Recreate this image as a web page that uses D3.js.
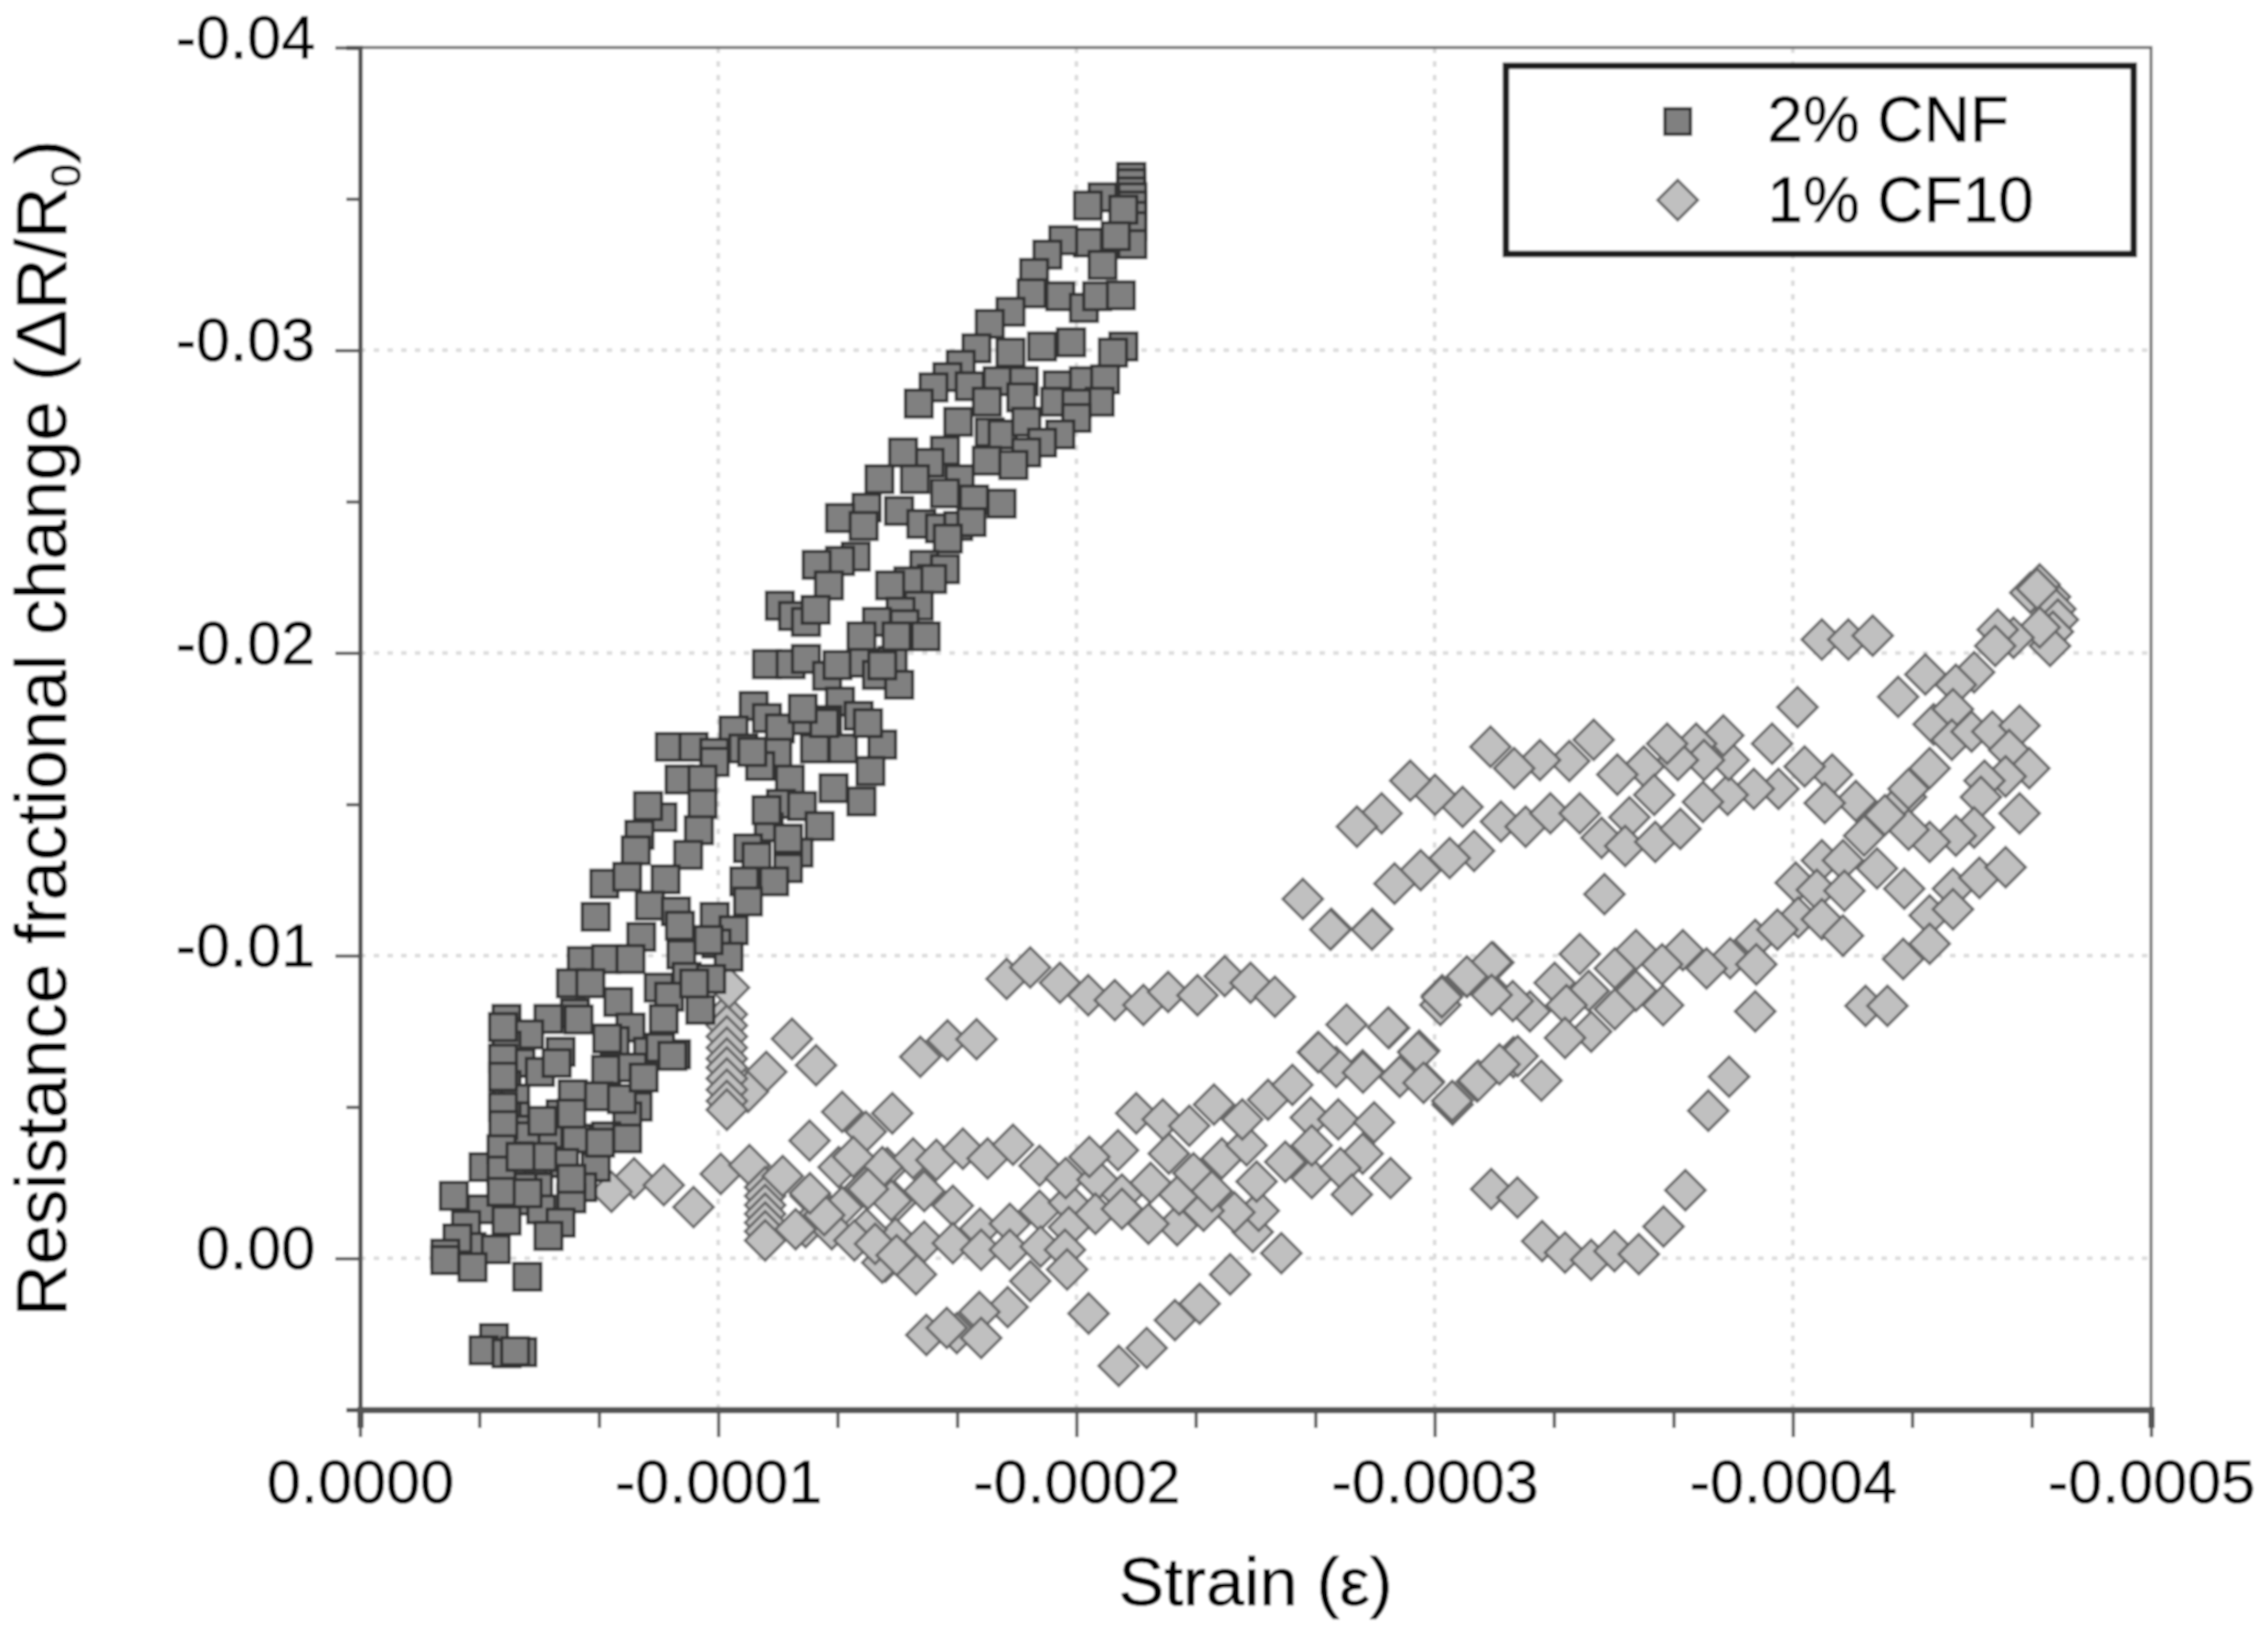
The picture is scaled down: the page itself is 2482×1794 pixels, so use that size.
<!DOCTYPE html>
<html>
<head>
<meta charset="utf-8">
<script src="https://cdn.jsdelivr.net/npm/d3@7"></script>
<style>
  html, body { margin: 0; padding: 0; background: #fff; }
  text { font-family: "Liberation Sans", Arial, sans-serif; fill: #000; stroke: #000; stroke-width: 0.6; }
</style>
</head>
<body>
<div id="graph"></div>
<script>
// strain in microstrain, resistance change in units of 1e-4
const cnfPoints = [
  [-215.3,-357.2],[-215.3,-355.2],[-215.3,-352.5],[-215.6,-350.5],[-215.6,-347.8],[-215.6,-344.4],[-215.6,-341],[-215.6,-335],
  [-207.3,-350.5],[-203.2,-347.8],[-213.1,-346.4],[-211,-337.7],[-203.2,-335.6],[-196.3,-336.3],[-191.9,-331.6],[-207.3,-328.2],
  [-188.2,-325.5],[-187.5,-318.8],[-195.5,-317.8],[-202.1,-314],[-205.8,-317.8],[-212.4,-318.1],[-181.6,-312.7],[-175.8,-308.7],
  [-172.1,-300.6],[-181.6,-299.2],[-190.4,-301.2],[-198.5,-302.6],[-213.1,-301.2],[-210.2,-299.2],[-167.7,-295.2],[-164,-291.1],
  [-160.1,-287.7],[-156,-282.4],[-170.2,-288.1],[-178,-289.8],[-185.3,-289.8],[-194.8,-288.4],[-202.1,-289.8],[-208,-290.4],
  [-206.5,-283],[-175,-283],[-184.6,-284.4],[-194.1,-283],[-200,-282.4],[-167,-276.3],[-175.8,-272.9],[-179.4,-272.2],
  [-186,-276.3],[-200,-277.6],[-195.5,-272.2],[-190.4,-269.5],[-186,-266.2],[-175,-263.5],[-182.4,-262.1],[-163.3,-266.8],
  [-159,-262.8],[-151.6,-266.2],[-145,-257.4],[-154.9,-257.4],[-167.4,-257.4],[-141.4,-248],[-150.5,-246.9],[-163.3,-252.7],
  [-171.4,-250.7],[-179.1,-249.3],[-134,-244.6],[-140.6,-241.9],[-156.7,-242.6],[-161.9,-241.2],[-167,-241.9],[-170.7,-243.2],
  [-164.1,-237.8],[-138.4,-231.8],[-134,-230.4],[-127.5,-229.1],[-130.9,-222.3],[-157.5,-229.1],[-163.3,-227.7],[-159.7,-224.4],
  [-153.1,-223.7],[-148,-222.3],[-117.2,-215.6],[-120.9,-212.2],[-124.5,-210.2],[-127.2,-214.2],[-156,-215.6],[-150.9,-213.6],
  [-152,-209.5],[-144.3,-210.2],[-140,-205.5],[-113.6,-196.3],[-120.2,-196.3],[-124.5,-198],[-130.4,-192.4],[-133.3,-196],
  [-140.6,-196.7],[-148.7,-197.4],[-144.3,-192.7],[-150.5,-189.5],[-134,-183.9],[-139.2,-179.2],[-130.4,-177.8],[-123.8,-177.8],
  [-109.9,-182.5],[-113.6,-178.5],[-117.2,-175.1],[-104.3,-174.4],[-86.5,-169],[-93.1,-169],[-98.9,-167],[-107,-168.4],
  [-116.5,-167],[-127,-168.4],[-134.8,-168.4],[-145.8,-169.7],[-142.5,-161],
  [-120,-158.2],[-111.7,-162.6],[-99,-164],[-132.2,-155.3],[-140,-150.9],[-89.2,-158.2],[-95.6,-158.2],[-95.6,-150.1],
  [-117.5,-150.1],[-123.4,-149.4],[-84.4,-145.7],[-80.4,-149.4],[-94.6,-141.4],[-114.1,-142.4],[-128.3,-142.8],[-78,-139.9],
  [-77,-134.8],[-91.6,-133.3],[-108.3,-135.5],[-110.7,-132.6],[-122.4,-134],[-119.5,-128.9],[-68.2,-123.8],[-74.6,-126],
  [-85.3,-125.2],[-107.3,-124.5],[-115.6,-124.5],[-108.3,-117.9],[-80.9,-116.5],[-88.2,-114.6],[-65.8,-112.8],[-99,-112.8],
  [-104.3,-108.4],[-78.5,-106.2],[-99.5,-104],[-89.7,-100.4],[-102.9,-99.6],[-61.9,-98.2],[-68.7,-98.9],[-75.5,-98.9],
  [-58.9,-90.9],[-64.3,-90.9],[-91.2,-93],[-98,-92.3],[-83.4,-89.4],[-86.3,-86.4],[-72.1,-84.7],[-95,-82.1],
  [-60,-80.9],[-52.6,-79.1],[-40.9,-79.1],[-40.9,-74.7],[-47.2,-74],[-84.8,-79.1],[-75.5,-76.2],[-71.1,-71.8],
  [-80.4,-68.2],[-56,-68.2],[-88.2,-67.4],[-83.8,-69.6],[-40.9,-70.3],[-40.9,-64.5],[-44.8,-64.5],[-68.7,-62.3],
  [-76,-63],[-50.2,-61.6],[-40.9,-57.2],[-59.4,-54.2],[-66.7,-53.5],[-43.3,-52.8],[-77.5,-50.1],[-74.6,-46.9],
  [-56,-47.6],[-43.3,-46.9],[-40.9,-46.9],[-52.6,-41.1],[-60.4,-39.6],[-68.7,-40.3],[-74.6,-39.6],[-43.3,-42.5],
  [-40.9,-39.6],[-46.2,-40.3],[-44.3,-33.7],[-57,-31.5],[-65.8,-30.1],[-34.5,-30.1],[-40.9,-33.7],[-48.2,-31.5],
  [-39.9,-25],[-42.3,-27.9],[-49.7,-23.5],[-45.3,-23.5],[-62,-23.5],[-59,-19.8],[-26.2,-20.6],[-40.9,-19.1],
  [-44.3,-19.1],[-34,-16.2],[-50.6,-16.2],[-56,-11.8],[-40.9,-12.5],[-29.6,-11],[-52.6,-7.4],[-31.1,-3.7],
  [-37.9,-3],[-27.2,-6.6],[-23.8,-1.5],[-23.8,0.6],[-31.4,2.9],[-46.7,6.1],
  [-37.4,26.3],[-34.5,30.4],[-40.9,31.4],[-45.3,31],[-43.3,30.7],
  [-39.9,-76.4],[-39.9,-66],[-39.9,-60],[-39.9,-50],[-40,-44],[-39.5,-36],[-39.5,-29],[-39.5,-22],
  [-54.9,-64.5],[-61,-78.9],[-69,-72.6],[-50.9,-45.4],[-59,-47.8],[-67,-38.2],[-50.9,-33.5],[-59,-26.3],
  [-44.8,-33.5],[-46.8,-21.5],[-73.1,-52.6],[-79.2,-59.7],[-87.2,-66.9],[-93.3,-90.8],[-97.3,-105.1],[-89.3,-109.9],
  [-119.5,-138.6],[-113.5,-148.1],[-109.5,-167.3],[-141.8,-176.8],[-129.6,-176.8],[-123.6,-181.6],[-157.9,-205.5],[-149.8,-205.5],[-145.8,-195.9]
];

const cf10Points = [
  [-180.5,-92.3],[-187.1,-96.1],[-195.4,-91],[-203.3,-86.9],[-210.7,-85.3],[-218.7,-83.7],[-225.6,-88],[-233.8,-86.9],
  [-241.4,-93.2],[-248.6,-91],[-255.4,-86.4],[-156.4,-66.6],[-164,-72],[-172.1,-72.4],[-148.6,-47.9],
  [-147.2,-29.8],[-154.4,-33],[-160.9,-32.5],[-168.3,-36.2],[-175.2,-33],[-182.3,-37.5],[-189.7,-30.6],[-157.5,-22.2],
  [-149.5,-18.4],[-165.5,-17.4],[-149.5,-6.6],[-157.5,-5.5],[-165.5,-5],[-173.1,-9.8],[-181.4,-11.4],[-173.4,-2.8],
  [-181.4,-2.8],[-189.7,-15.7],[-197.9,-18.4],[-197,-26.5],[-205.9,-26],[-211.6,-35.7],[-203.6,-33.5],[-212.7,-21.1],
  [-205.3,-14.7],[-197.9,-10.3],[-190,-3.9],[-196.8,-2.8],[-146.7,1],[-155.2,5.3],[-197.4,3.7],[-187.1,7.5],
  [-180.8,16.1],[-172.9,17.7],[-158.1,25.3],[-166.6,24.7],[-163.8,23],[-173.4,26.3],[-203.4,18.2],[-211.8,35.5],
  [-219.6,29.6],[-227.5,20.4],[-234.4,15],[-242.9,5.3],[-257.2,-1.7],[-249.2,-8.7],[-250.9,-15.7],[-244.1,-15.2],
  [-235.5,-15.7],[-228.1,-10.9],[-220.1,-11.4],[-212.7,-16.3],[-220.7,-24.9],[-228.7,-21.1],[-225.8,-34.6],[-232.7,-28.1],
  [-240.6,-33],[-237.8,-22.2],[-247.5,-37.3],[-250.3,-25.4],[-216.7,-47.9],[-224.1,-45.9],[-231.5,-43.8],[-238.4,-50.8],
  [-246.3,-45.9],[-253.5,-52.4],[-260.3,-57.3],[-258.3,-31.9],[-265.7,-26.5],[-265.4,-46.5],[-273.1,-45.9],[-283.1,-44.9],
  [-279.9,-34.6],[-273.7,-29.8],[-265.7,-37.3],[-276.9,-21.1],[-287.7,-26.5],[-279.9,-62.1],[-267.4,-68.1],[-272.5,-63.2],
  [-275.4,-77.2],[-287.3,-76.1],[-295.7,-68.6],[-290.2,-60],[-297,-58.4],[-305,-50.8],[-311.8,-58.4],[-302.1,-86.9],
  [-309,-92.9],[-316.4,-97.7],[-316.4,-87.5],[-301.6,-83.7],[-322,-66.4],[-271.2,-108.8],[-282.6,-108.8],
  [-120.6,-72.5],[-127.3,-63.8],[-113.4,-61.6],[-108.3,-55],
  [-102.4,-80.6],[-102.4,-76.9],[-102.4,-73.3],[-102.4,-69.6],[-102.4,-66],[-102.4,-63],[-102.4,-59.4],[-102.4,-55.7],
  [-102.4,-52],[-102.4,-49.1],[-103,-89.4],[-134.6,-48.4],[-141.2,-41.8],[-125.5,-38.9],
  [-76.5,-26.4],[-84.8,-24.2],[-93.1,-16.9],[-70.2,-22],[-100.7,-27.9],[-108.7,-30.8],
  [-113.1,-23.5],[-113.1,-20.6],[-113.1,-17.6],[-113.1,-14.7],[-113.1,-11.8],[-113.1,-8.9],[-113.1,-5.9],
  [-118,-27.2],[-133.6,-30.1],[-145.8,-30.1],[-125.8,-20.6],[-134.6,-16.9],[-141,-23.5],[-124.4,-10.3],[-131.7,-9.6],
  [-141.4,-9.6],[-138,-5.9],[-145.8,1.4],[-148.3,-19.1],[-137.7,-33.5],[-141.8,-22.9],[-129.6,-14.3],[-143.8,-4.8],
  [-149.8,-1],[-121.6,-9.6],[-125.6,-21.5],
  [-466.3,-219.9],[-471.8,-218.5],[-473.3,-214.5],[-474,-211],[-472.6,-207],[-471.8,-202.3],[-468.9,-208.4],[-468.9,-222.6],
  [-468.2,-221.2],[-461.6,-205],[-457.2,-207.7],[-456.5,-202.3],[-450.6,-193.6],[-445.5,-189.5],[-437,-192.9],[-429.4,-185.5],
  [-408.1,-204.4],[-415.5,-204.4],[-422.3,-205.7],[-401.3,-182.1],[-439.3,-176.4],[-444.7,-181.4],[-444.4,-171.3],[-449.9,-174],
  [-455.7,-174],[-463.3,-176],[-460.4,-167.9],[-466,-161.9],[-459.4,-159.2],[-453.5,-157.8],[-438.2,-161.9],[-431.6,-152.4],
  [-432.3,-155.1],[-452.5,-152.4],[-463.3,-147],[-450.6,-142.3],[-445.5,-139.6],[-438.2,-137.6],[-432.3,-141.6],[-425.7,-146.4],
  [-419.9,-139.6],[-417.6,-151.1],[-411,-159.8],[-408.9,-150.4],[-403.3,-162.5],[-396,-155.1],[-394.2,-170],[-389.1,-155.1],
  [-381.8,-153.1],[-382.1,-164.6],[-380.6,-172.7],[-373,-170],[-374.9,-150.8],[-375.2,-164.6],[-367.9,-164.6],[-364.9,-170],
  [-358.4,-162.5],[-361.3,-153.1],[-351,-159.8],[-344.4,-171.3],[-337.6,-164.3],[-329.4,-164.6],[-322.2,-161.9],[-315.6,-169],
  [-307.8,-149.1],[-300.1,-153.1],[-293.2,-157.8],[-285.2,-147],[-278.3,-142.6],[-318.5,-144.3],[-325.4,-142.6],[-332.3,-147],
  [-340.5,-147],[-354.4,-145.7],[-346.6,-138.9],[-353.2,-136.2],[-361.6,-137.6],[-368.6,-141.9],[-311,-134.6],[-304.2,-132.2],
  [-296.1,-128.2],[-288.8,-123.8],[-263.2,-118.7],[-270.9,-108.6],[-282.5,-108.6],[-347.4,-120.3],[-408.1,-131.5],[-414,-131.5],
  [-423.5,-128.8],[-431.1,-122.1],[-400.8,-124.1],[-406.7,-121.7],[-414.4,-121.4],[-401.5,-112.6],[-408.1,-112],[-414,-106.6],
  [-444.7,-122.1],[-452.1,-125.7],[-459.4,-129.2],[-438.2,-113.3],[-444.7,-115.3],[-438.2,-103.9],[-430.8,-98.9],[-420.3,-83.4],
  [-426.4,-83.4],[-389.5,-81.6],[-389.5,-105.2],[-395.7,-108.6],[-382.5,-99.1],[-389.8,-97.1],[-375.9,-95.8],[-369.3,-101.8],
  [-363.5,-97.1],[-356.2,-101.8],[-350.3,-95.8],[-340.5,-100.5],[-343,-88.4],[-356.2,-88.4],[-333.5,-91],[-363.8,-83.6],
  [-350.3,-82.3],[-336.8,-83.6],[-326.6,-81.6],[-321.8,-85],[-315.9,-97.8],[-309,-93.1],[-302,-86.3],[-315.9,-87],
  [-343.7,-74.9],[-336.4,-72.8],[-382.2,-60],[-376.4,-48.8],[-287,-76.2],[-267.6,-68.1],[-295.4,-68.1],[-280,-61.4],
  [-290.3,-60],[-296.9,-58],[-312.2,-58.7],[-304.9,-52],[-323.2,-66.8],[-318.1,-64.1],[-329.8,-58.7],
  [-315.8,-22.9],[-323.1,-20.1],[-330,-5.7],[-336.4,-1.9],[-343.7,0.5],[-350.2,-2.4],[-357,-1.4],[-363.9,-10.5],[-370,-22.5]
];

const xTicks = [0, -100, -200, -300, -400, -500];
const xTickLabels = ["0.0000", "-0.0001", "-0.0002", "-0.0003", "-0.0004", "-0.0005"];
const xMinorTicks = [-33.3, -66.7, -133.3, -166.7, -233.3, -266.7, -333.3, -366.7, -433.3, -466.7];
const yTicks = [0, -100, -200, -300, -400];
const yTickLabels = ["0.00", "-0.01", "-0.02", "-0.03", "-0.04"];
const yMinorTicks = [50, -50, -150, -250, -350];
const legendNames = ["2% CNF", "1% CF10"];

const svg = d3.select("#graph").append("svg")
  .attr("width", 2482)
  .attr("height", 1794);

// the reference is a soft scan, so the whole drawing gets a slight blur
svg.append("filter").attr("id", "soft")
  .attr("x", 0).attr("y", 0).attr("width", 1).attr("height", 1)
  .append("feGaussianBlur").attr("stdDeviation", 0.9);

const chart = svg.append("g").attr("filter", "url(#soft)");
chart.append("rect").attr("width", 2482).attr("height", 1794).attr("fill", "#fff");

const left = 394, right = 2354, top_ = 52, bottom = 1543;

const x = d3.scaleLinear().domain([0, -500]).range([left, right]);
const y = d3.scaleLinear().domain([50, -400]).range([bottom, top_]);

// dotted grid
const grid = chart.append("g")
  .attr("stroke", "#dcdcdc")
  .attr("stroke-width", 4)
  .attr("stroke-dasharray", "6 9");
grid.selectAll(".gx").data(xTicks.slice(1, 5)).join("line")
  .attr("x1", d => x(d)).attr("x2", d => x(d)).attr("y1", top_).attr("y2", bottom);
grid.selectAll(".gy").data(yTicks.slice(0, 4)).join("line")
  .attr("y1", d => y(d)).attr("y2", d => y(d)).attr("x1", left).attr("x2", right);

// frame
chart.append("rect")
  .attr("x", left).attr("y", top_)
  .attr("width", right - left).attr("height", bottom - top_)
  .attr("fill", "none").attr("stroke", "#666").attr("stroke-width", 3);

const squarePath = d3.symbol().type(d3.symbolSquare).size(870)();
const diamondPath = d3.symbol().type(d3.symbolSquare).size(960)();

chart.append("g").selectAll("path").data(cf10Points).join("path")
  .attr("d", diamondPath)
  .attr("transform", d => `translate(${x(d[0])},${y(d[1])}) rotate(45)`)
  .attr("fill", "#c0c0c0").attr("stroke", "#666").attr("stroke-width", 3);

chart.append("g").selectAll("path").data(cnfPoints).join("path")
  .attr("d", squarePath)
  .attr("transform", d => `translate(${x(d[0])},${y(d[1])})`)
  .attr("fill", "#808080").attr("stroke", "#333").attr("stroke-width", 3.5);

// axes
function styleAxis(g, w) {
  g.select(".domain").attr("stroke", "#555").attr("stroke-width", w);
  g.selectAll(".tick line").attr("stroke", "#555").attr("stroke-width", 3.5);
  g.selectAll("text").attr("font-size", 67).attr("fill", "#000");
}

chart.append("g").attr("transform", `translate(0,${bottom})`)
  .call(d3.axisBottom(x).tickValues(xMinorTicks).tickSize(20).tickFormat(""))
  .call(g => styleAxis(g, 7));
chart.append("g").attr("transform", `translate(0,${bottom})`)
  .call(d3.axisBottom(x).tickValues(xTicks).tickSize(30).tickSizeOuter(0).tickPadding(24)
    .tickFormat((d, i) => xTickLabels[i]))
  .call(g => styleAxis(g, 7));

chart.append("g").attr("transform", `translate(${left},0)`)
  .call(d3.axisLeft(y).tickValues(yMinorTicks).tickSize(15).tickFormat(""))
  .call(g => styleAxis(g, 5));
chart.append("g").attr("transform", `translate(${left},0)`)
  .call(d3.axisLeft(y).tickValues(yTicks).tickSize(27).tickSizeOuter(0).tickPadding(22)
    .tickFormat((d, i) => yTickLabels[i]))
  .call(g => styleAxis(g, 5))
  .call(g => g.selectAll("text").attr("dy", "0.17em"));

// axis titles
chart.append("text")
  .attr("x", 1374).attr("y", 1757)
  .attr("text-anchor", "middle").attr("font-size", 75)
  .text("Strain (ε)");

const yTitle = chart.append("text")
  .attr("transform", "translate(72,797) rotate(-90)")
  .attr("text-anchor", "middle").attr("font-size", 78);
yTitle.append("tspan").text("Resistance fractional change (ΔR/R");
yTitle.append("tspan").attr("font-size", 46).attr("dy", 16).text("0");
yTitle.append("tspan").attr("dy", -16).text(")");

// legend
const legend = chart.append("g");
legend.append("rect")
  .attr("x", 1648).attr("y", 72).attr("width", 687).attr("height", 206)
  .attr("fill", "#fff").attr("stroke", "#1a1a1a").attr("stroke-width", 7);
legend.append("path").attr("d", d3.symbol().type(d3.symbolSquare).size(784)())
  .attr("transform", "translate(1836,133)")
  .attr("fill", "#808080").attr("stroke", "#333").attr("stroke-width", 3.5);
legend.append("path").attr("d", diamondPath)
  .attr("transform", "translate(1836,219) rotate(45)")
  .attr("fill", "#c0c0c0").attr("stroke", "#666").attr("stroke-width", 3);
legend.selectAll(".name").data(legendNames).join("text")
  .attr("x", 1934)
  .attr("y", (d, i) => i === 0 ? 155 : 243)
  .attr("font-size", 70)
  .text(d => d);
</script>
</body>
</html>
